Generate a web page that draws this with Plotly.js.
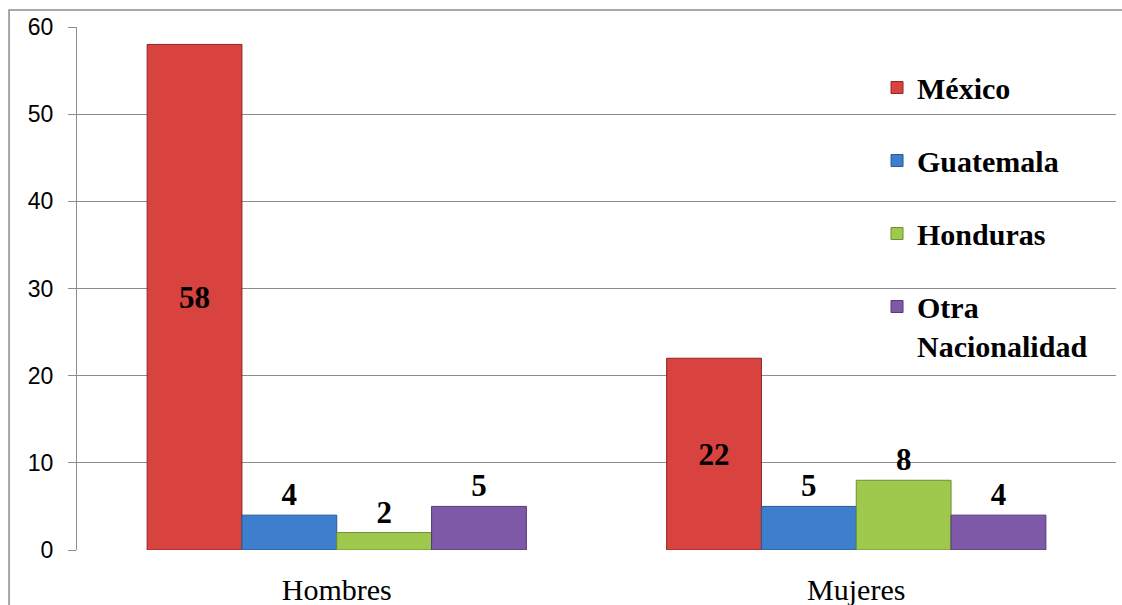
<!DOCTYPE html>
<html><head><meta charset="utf-8">
<script src="https://cdn.plot.ly/plotly-3.0.1.min.js"></script>
<style>html,body{margin:0;padding:0;background:#fff}#chart{width:1122px;height:605px}</style>
</head><body><div id="chart"></div>
<script>
const categories = ["Hombres", "Mujeres"];
const seriesNames = ["México", "Guatemala", "Honduras", "Otra<br>Nacionalidad"];
const mexico = [58, 22];
const guatemala = [4, 5];
const honduras = [2, 8];
const otra = [5, 4];
const yTicks = [0, 10, 20, 30, 40, 50, 60];

const values = [mexico, guatemala, honduras, otra];
const colors = ["#D8423F", "#3D7FCD", "#9EC94C", "#7D59A8"];
const edges = ["#8E2624", "#285A92", "#6E8E32", "#54397A"];
const positions = ["inside", "outside", "outside", "outside"];
const serif = "'Liberation Serif', 'Times New Roman', serif";

const traces = values.map((v, i) => ({
  type: "bar",
  name: seriesNames[i],
  x: categories,
  y: v,
  legendgroup: "g" + i,
  marker: {color: colors[i], line: {color: edges[i], width: 1}},
  text: v.map(String),
  textposition: positions[i],
  insidetextanchor: "middle",
  cliponaxis: false,
  textfont: {family: serif, size: 31, color: "#000", weight: "bold"},
  hoverinfo: "skip"
}));

const layout = {
  width: 1122, height: 605,
  margin: {l: 77, r: 6, t: 27, b: 55},
  paper_bgcolor: "#fff", plot_bgcolor: "#fff",
  barmode: "group", bargap: 0.27, bargroupgap: 0,
  showlegend: true,
  legend: {
    x: 0.77, y: 0.934, xanchor: "left", yanchor: "top",
    bgcolor: "rgba(0,0,0,0)",
    traceorder: "grouped", tracegroupgap: 31, valign: "top",
    font: {family: serif, size: 30, color: "#000", weight: "bold"}
  },
  xaxis: {
    type: "category", range: [-0.5, 1.5],
    showgrid: false, zeroline: false, showline: false, ticks: "",
    tickfont: {family: serif, size: 30, color: "#000"},
    ticklabelstandoff: 19
  },
  yaxis: {
    range: [0, 60], tickvals: yTicks, ticktext: yTicks.map(String),
    showgrid: true, gridcolor: "#8c8c8c", gridwidth: 1,
    zeroline: false, showline: true, linecolor: "#8c8c8c", linewidth: 1,
    ticks: "outside", ticklen: 8, tickcolor: "#8c8c8c",
    ticklabelstandoff: 10,
    tickfont: {family: "'Liberation Sans', Arial, sans-serif", size: 23, color: "#000"}
  },
  shapes: [{
    type: "rect", xref: "paper", yref: "paper",
    x0: -0.0654, x1: 1.2, y0: -0.3, y1: 1.0325,
    line: {color: "#8c8c8c", width: 1.5}, fillcolor: "rgba(0,0,0,0)", layer: "below"
  }]
};

Plotly.newPlot("chart", traces, layout, {staticPlot: true});
</script></body></html>
